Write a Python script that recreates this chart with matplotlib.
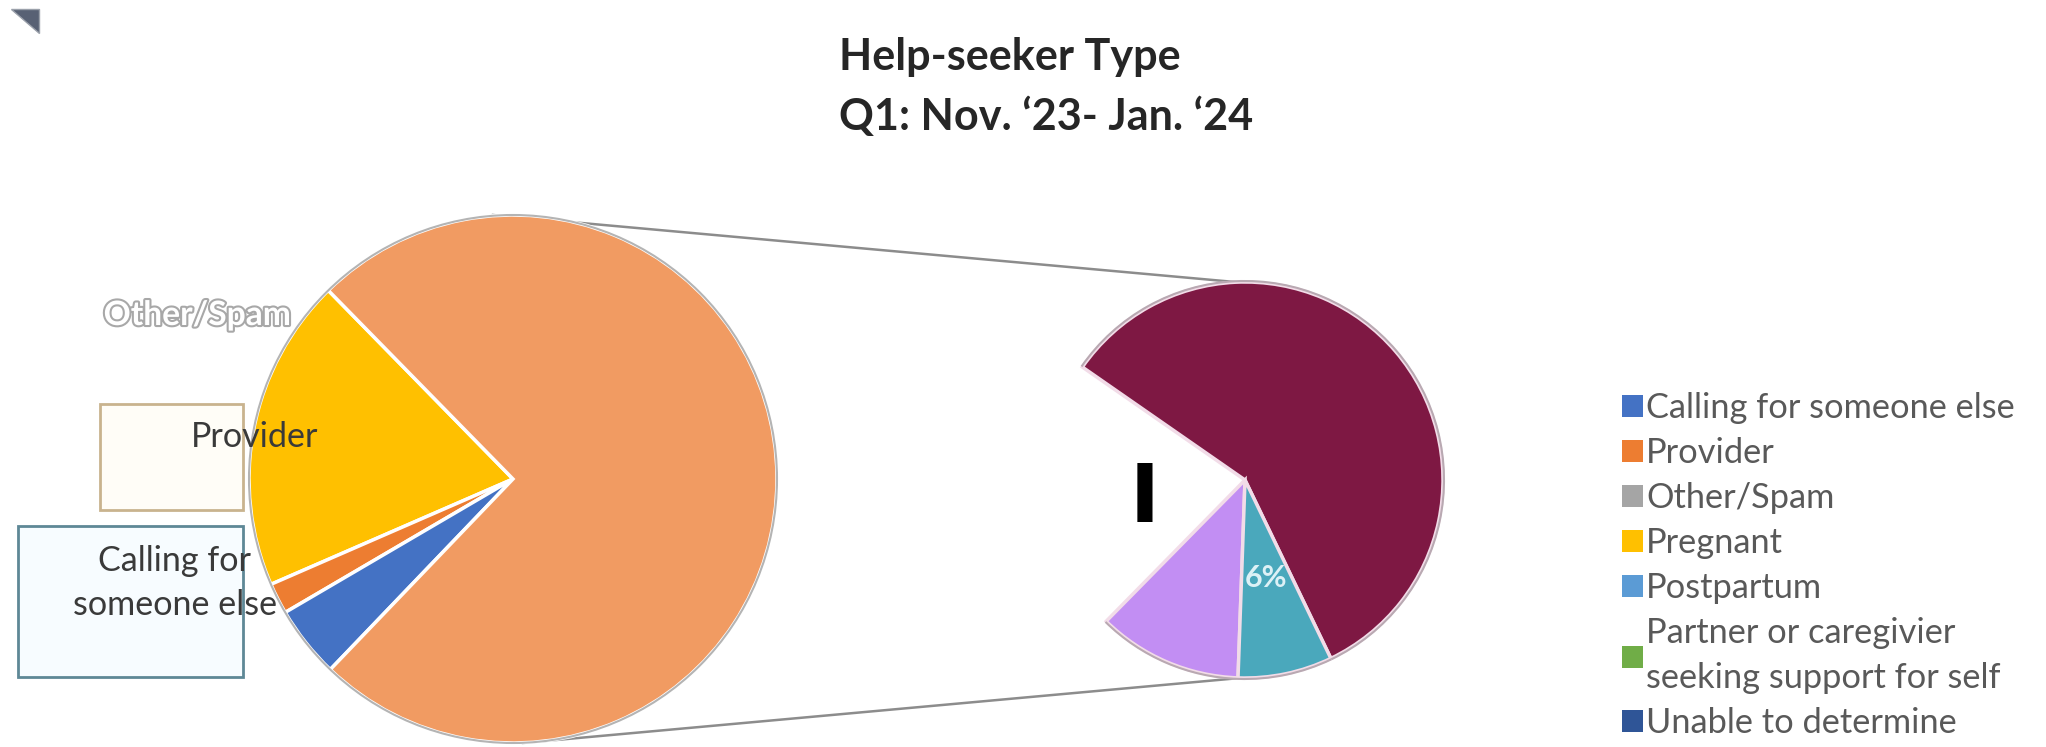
import matplotlib
matplotlib.use("Agg")
import matplotlib.pyplot as plt
from matplotlib.patches import Patch, Rectangle, Polygon, Arc, Circle
import matplotlib.patheffects as pe

# ---------------- data ----------------
main_labels = ["Pregnant", "Provider", "Calling for someone else", "Other (expanded)"]
main_values = [19.2, 1.9, 4.4, 74.5]
main_colors = ["#FFC000", "#ED7D31", "#4472C4", "#F19B62"]

sec_labels = ["Group A", "(unfilled)", "Group B", "Postpartum"]
sec_values = [58.2, 22.3, 11.8, 7.7]
sec_colors = ["#7E1843", "none", "#C28EF3", "#4AA8BC"]

legend_labels = ["Calling for someone else", "Provider", "Other/Spam", "Pregnant",
                 "Postpartum", "Partner or caregivier\nseeking support for self",
                 "Unable to determine"]
legend_colors = ["#4472C4", "#ED7D31", "#A5A5A5", "#FFC000", "#5B9BD5", "#70AD47", "#2F5597"]

title_lines = ["Help-seeker Type", "Q1: Nov. \u201823- Jan. \u201824"]
sec_label_text = "6%"

# ---------------- layout ----------------
W, H = 2046, 747
FONT = ["Lato", "DejaVu Sans"]
fig = plt.figure(figsize=(W / 100, H / 100), dpi=100)
ax = fig.add_axes([0, 0, 1, 1])
renderer = fig.canvas.get_renderer()


def fit_size(s, target_px, **kw):
    t = fig.text(0, 0, s, fontsize=20, **kw)
    w = t.get_window_extent(renderer=renderer).width
    t.remove()
    return 20 * target_px / w


def Y(ypix):  # convert from top-based pixel to data y
    return H - ypix

mcx, mcy, mr = 513, Y(479), 264
scx, scy, sr = 1245, Y(480), 198

# connector lines (behind pies)
ax.plot([mcx - 20, scx - 10], [mcy + mr, scy + sr], color="#8C8C8C", lw=1.8, zorder=0)
ax.plot([mcx + 10, scx - 5], [mcy - mr, scy - sr], color="#8C8C8C", lw=1.8, zorder=0)

# main pie
wedges, _ = ax.pie(main_values, colors=main_colors, startangle=134.4, counterclock=True,
                   center=(mcx, mcy), radius=mr,
                   wedgeprops=dict(edgecolor="white", linewidth=2.5))
ax.add_patch(Circle((mcx, mcy), mr, fill=False, edgecolor="#B4B4B4", lw=1.5, zorder=3))

# secondary pie
swedges, _ = ax.pie(sec_values, colors=sec_colors, startangle=-64.3, counterclock=True,
                    center=(scx, scy), radius=sr,
                    wedgeprops=dict(edgecolor="#F2DCE8", linewidth=2.5))
for w, c in zip(swedges, sec_colors):
    if c == "none":
        w.set_edgecolor("none")
    else:
        ax.add_patch(Arc((scx, scy), 2 * sr + 2, 2 * sr + 2, theta1=w.theta1, theta2=w.theta2,
                         edgecolor="#B9A9B2", lw=1.5, zorder=3))

ax.set_xlim(0, W)
ax.set_ylim(0, H)
ax.set_aspect("equal")
ax.axis("off")

# title (left aligned block)
ts = fit_size(title_lines[0], 342, family=FONT, fontweight="bold")
ax.text(839, Y(70), title_lines[0], ha="left", va="baseline", fontsize=ts,
        family=FONT, fontweight="bold", color="#262626")
ax.text(839, Y(130), title_lines[1], ha="left", va="baseline", fontsize=ts,
        family=FONT, fontweight="bold", color="#262626")

# top-left corner mark
ax.add_patch(Polygon([(11, Y(9)), (39, Y(9)), (39, Y(33))], closed=True,
                     facecolor="#586174", edgecolor="#9AA0AA", lw=1, zorder=5))

# label boxes
ax.add_patch(Rectangle((100, Y(510)), 143, 106, facecolor="#FFFDF7", edgecolor="#C9B38E",
                       lw=2, zorder=0.5))
ax.add_patch(Rectangle((18, Y(677)), 225, 151, facecolor="#F7FCFF", edgecolor="#5E8896",
                       lw=2, zorder=0.5))

ls = fit_size("someone else", 205, family=FONT)
ax.text(255, Y(437), "Provider", ha="center", va="center", fontsize=ls, family=FONT,
        color="#3A3A3A", zorder=6)
ax.text(175, Y(583), "Calling for\nsomeone else", ha="center", va="center", fontsize=ls,
        family=FONT, color="#3A3A3A", linespacing=1.45, zorder=6)
os_ = fit_size("Other/Spam", 187, family=FONT, fontweight="bold")
ax.text(197, Y(315), "Other/Spam", ha="center", va="center", fontsize=os_, family=FONT,
        fontweight="bold", color="white", zorder=6,
        path_effects=[pe.withStroke(linewidth=3, foreground="#A8A8A8")])

# secondary labels
ax.text(1266, Y(578), sec_label_text, ha="center", va="center", fontsize=22, family=FONT,
        fontweight="bold", color="#DDF1F6", zorder=6)
ax.text(1145, Y(500), "I", ha="center", va="center", fontsize=58, family=["DejaVu Sans"],
        fontweight="bold", color="black", zorder=6)

# legend
lfs = fit_size(legend_labels[0], 370, family=FONT)
handles = [Patch(facecolor=c, edgecolor="none") for c in legend_colors]
leg = ax.legend(handles, legend_labels, loc="upper left", bbox_to_anchor=(1622, Y(392)),
                bbox_transform=ax.transData, frameon=False,
                prop=dict(family=FONT, size=lfs), labelcolor="#595959",
                handlelength=0.62, handleheight=0.62, handletextpad=0.08,
                labelspacing=0.38, borderpad=0, borderaxespad=0)
for t in leg.get_texts():
    t.set_linespacing(1.5)

fig.savefig("out.png", dpi=100, facecolor="white")
